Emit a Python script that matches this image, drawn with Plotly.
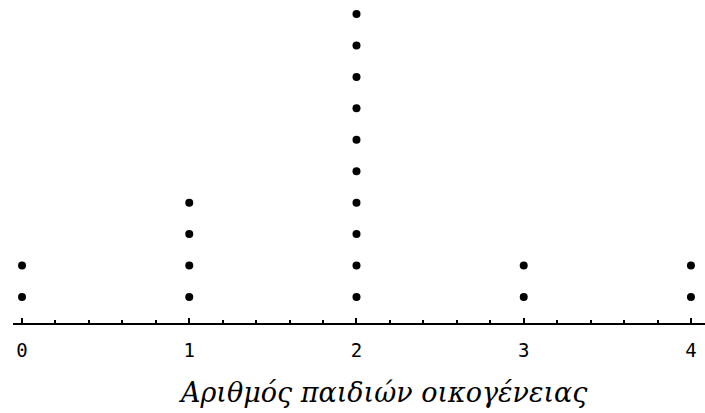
import plotly.graph_objects as go

# Number of children per family -> number of families
children = [0, 1, 2, 3, 4]
families = [2, 4, 10, 2, 2]
tick_labels = ['0', '1', '2', '3', '4']
x_title = 'Αριθμός παιδιών οικογένειας'

# stack one dot per family above each value
xs, ys = [], []
for c, n in zip(children, families):
    for k in range(1, n + 1):
        xs.append(c)
        ys.append(k)

fig = go.Figure()
fig.add_trace(go.Scatter(
    x=xs, y=ys, mode='markers',
    marker=dict(size=8, color='black'),
    hoverinfo='skip', showlegend=False
))

fig.update_xaxes(
    range=[-0.054, 4.084],
    tickvals=children, ticktext=tick_labels,
    ticks='inside', ticklen=5, tickwidth=1.5, tickcolor='black',
    minor=dict(dtick=0.2, tick0=0, ticks='inside', ticklen=3, tickwidth=1.5, tickcolor='black'),
    showline=True, linecolor='black', linewidth=2,
    showgrid=False, zeroline=False,
    tickfont=dict(family='DejaVu Sans Mono', size=19, color='black'),
    ticklabelstandoff=9,
)
fig.update_yaxes(range=[0.173, 10.445], visible=False, showgrid=False, zeroline=False)

fig.add_annotation(
    text=x_title, xref='paper', yref='paper',
    x=0.535, y=-0.215, xanchor='center', yanchor='middle',
    showarrow=False,
    font=dict(family='DejaVu Serif', size=27, color='black', style='italic')
)

fig.update_layout(
    width=705, height=413,
    margin=dict(l=13, r=0, t=0, b=90),
    plot_bgcolor='white', paper_bgcolor='white',
)

fig.write_html('out.html', config={'displayModeBar': False},
               post_script="document.body.style.margin='0';")
